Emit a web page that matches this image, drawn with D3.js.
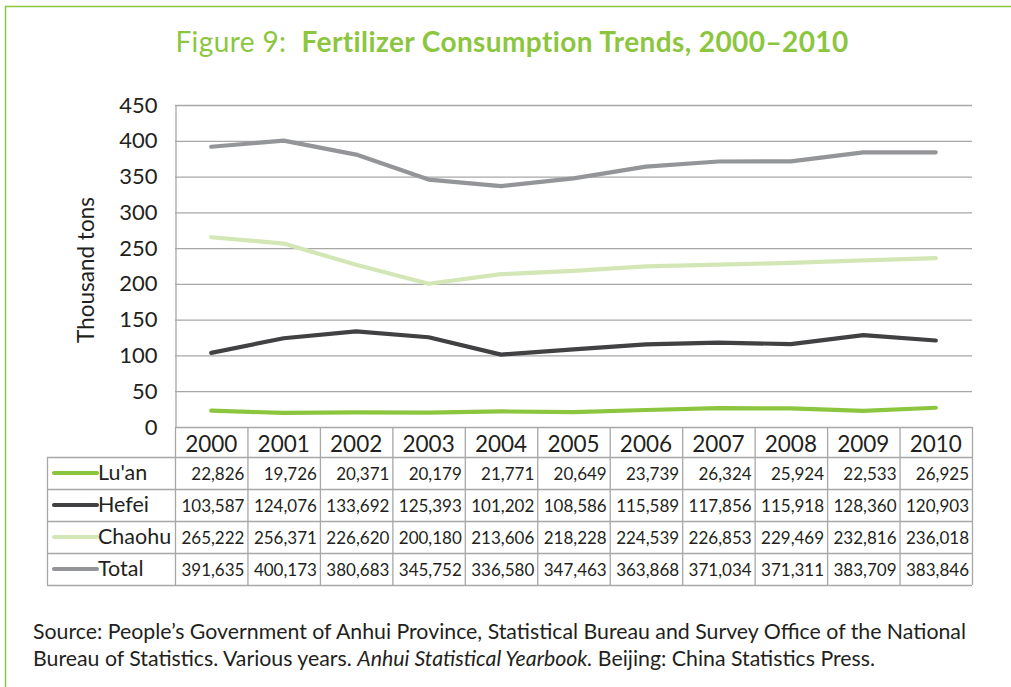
<!DOCTYPE html>
<html>
<head>
<meta charset="utf-8">
<script src="https://cdn.jsdelivr.net/npm/d3@7"></script>
<style>
  body { margin: 0; background: #fff; }
  svg { display: block; font-family: Lato, "Open Sans", sans-serif; }
</style>
</head>
<body>
<div id="chart"></div>
<script>
// data (tons); chart lines are plotted in thousand tons
const years = ["2000","2001","2002","2003","2004","2005","2006","2007","2008","2009","2010"];
const seriesNames = ["Lu'an", "Hefei", "Chaohu", "Total"];
const luan   = [22826, 19726, 20371, 20179, 21771, 20649, 23739, 26324, 25924, 22533, 26925];
const hefei  = [103587, 124076, 133692, 125393, 101202, 108586, 115589, 117856, 115918, 128360, 120903];
const chaohu = [265222, 256371, 226620, 200180, 213606, 218228, 224539, 226853, 229469, 232816, 236018];
const total  = [391635, 400173, 380683, 345752, 336580, 347463, 363868, 371034, 371311, 383709, 383846];
const yTicks = [0, 50, 100, 150, 200, 250, 300, 350, 400, 450];

const seriesValues = [luan, hefei, chaohu, total];
const colors = ["#8cc63f", "#414042", "#d3e7b6", "#939598"];

const widthSvg = 1011, heightSvg = 687;
const green = "#8cc63f";
const gridColor = "#a7a7a7";
const ink = "#231f20";

const svg = d3.select("#chart").append("svg")
    .attr("width", widthSvg)
    .attr("height", heightSvg);

// frame
svg.append("rect")
    .attr("x", 5.5).attr("y", 6.5)
    .attr("width", 1100).attr("height", 1000)
    .attr("fill", "none")
    .attr("stroke", green)
    .attr("stroke-width", 1.5);

// title
const title = svg.append("text")
    .attr("x", 512).attr("y", 52)
    .attr("text-anchor", "middle")
    .attr("fill", green)
    .style("font-size", "28px")
    .style("letter-spacing", "0.4px");
title.append("tspan").text("Figure 9:\u00a0\u00a0");
title.append("tspan").attr("font-weight", "bold").text("Fertilizer Consumption Trends, 2000\u20132010");

const plot = {left: 175, right: 972, top: 105, bottom: 427};

const x = d3.scaleBand().domain(years).range([plot.left, plot.right]).padding(0);
const y = d3.scaleLinear().domain([0, 450]).range([plot.bottom, plot.top]);

// gridlines
svg.append("g")
    .selectAll("line")
    .data(yTicks)
    .join("line")
    .attr("x1", plot.left).attr("x2", plot.right)
    .attr("y1", d => y(d) + 0.5).attr("y2", d => y(d) + 0.5)
    .attr("stroke", gridColor)
    .attr("stroke-width", 1.3);

// y axis
const yAxis = svg.append("g")
    .attr("transform", "translate(" + (plot.left + 0.5) + ",0)")
    .call(d3.axisLeft(y).tickValues(yTicks).tickSize(0).tickPadding(18));
yAxis.select(".domain").attr("stroke", gridColor).attr("stroke-width", 1.3);
yAxis.selectAll("text")
    .attr("fill", ink)
    .style("font-size", "22px")
    .style("font-family", "Lato, sans-serif");

svg.append("text")
    .attr("transform", "translate(94," + ((plot.top + plot.bottom) / 2 + 4) + ") rotate(-90)")
    .attr("text-anchor", "middle")
    .attr("fill", ink)
    .style("font-size", "22.5px")
    .text("Thousand tons");

// lines
const line = d3.line()
    .x((d, i) => x(years[i]) + x.bandwidth() / 2)
    .y(d => y(d / 1000));

svg.append("g")
    .selectAll("path")
    .data(seriesValues)
    .join("path")
    .attr("d", d => line(d))
    .attr("fill", "none")
    .attr("stroke", (d, i) => colors[i])
    .attr("stroke-width", 4.2)
    .attr("stroke-linecap", "round")
    .attr("stroke-linejoin", "round");

// data table
const tableLeft = 47;
const headerBottom = 457;
const rowH = 32;
const rowsTop = headerBottom;
const tableBottom = rowsTop + rowH * seriesNames.length;
const table = svg.append("g");

// horizontal rules
table.selectAll("line.h")
    .data(d3.range(seriesNames.length + 1))
    .join("line")
    .attr("class", "h")
    .attr("x1", tableLeft).attr("x2", plot.right)
    .attr("y1", i => rowsTop + i * rowH + 0.5)
    .attr("y2", i => rowsTop + i * rowH + 0.5)
    .attr("stroke", gridColor).attr("stroke-width", 1.3);

// vertical rules
const colEdges = years.map(d => x(d)).concat([plot.right]);
table.selectAll("line.v")
    .data(colEdges)
    .join("line")
    .attr("class", "v")
    .attr("x1", d => d + 0.5).attr("x2", d => d + 0.5)
    .attr("y1", plot.bottom).attr("y2", tableBottom)
    .attr("stroke", gridColor).attr("stroke-width", 1.3);
table.append("line")
    .attr("x1", tableLeft + 0.5).attr("x2", tableLeft + 0.5)
    .attr("y1", rowsTop).attr("y2", tableBottom)
    .attr("stroke", gridColor).attr("stroke-width", 1.3);

// header years
table.selectAll("text.year")
    .data(years)
    .join("text")
    .attr("class", "year")
    .attr("x", d => x(d) + x.bandwidth() / 2)
    .attr("y", headerBottom - 5)
    .attr("text-anchor", "middle")
    .attr("fill", ink)
    .style("font-size", "22.5px")
    .text(d => d);

const fmt = d3.format(",");

seriesNames.forEach(function(name, si) {
    const cy = rowsTop + si * rowH + rowH / 2;
    table.append("line")
        .attr("x1", 54).attr("x2", 97)
        .attr("y1", cy).attr("y2", cy)
        .attr("stroke", colors[si])
        .attr("stroke-width", 4.2)
        .attr("stroke-linecap", "round");
    table.append("text")
        .attr("x", 98).attr("y", cy + 7)
        .attr("fill", ink)
        .style("font-size", "21.5px")
        .text(name);
    table.selectAll("text.v" + si)
        .data(seriesValues[si])
        .join("text")
        .attr("class", "v" + si)
        .attr("x", (d, i) => x(years[i]) + x.bandwidth() - 3)
        .attr("y", cy + 7)
        .attr("text-anchor", "end")
        .attr("fill", ink)
        .style("font-size", "17px")
        .text(d => fmt(d));
});

// source note
const src = svg.append("text")
    .attr("x", 33).attr("y", 639)
    .attr("fill", ink)
    .style("font-size", "21.3px");
src.append("tspan").text("Source: People\u2019s Government of Anhui Province, Statistical Bureau and Survey Office of the National");
const l2 = svg.append("text")
    .attr("x", 33).attr("y", 666)
    .attr("fill", ink)
    .style("font-size", "21.3px");
l2.append("tspan").text("Bureau of Statistics. Various years. ");
l2.append("tspan").attr("font-style", "italic").text("Anhui Statistical Yearbook.");
l2.append("tspan").text(" Beijing: China Statistics Press.");
</script>
</body>
</html>
